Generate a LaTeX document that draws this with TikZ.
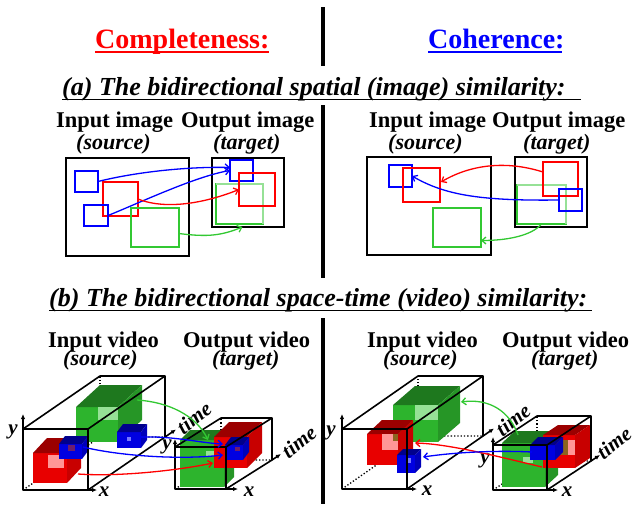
\documentclass[tikz,border=0pt]{standalone}
\usepackage{fontspec}
\setmainfont{Liberation Serif}
\usetikzlibrary{arrows.meta,calc}
\definecolor{cRed}{RGB}{255,0,0}
\definecolor{cBlue}{RGB}{0,0,255}
\definecolor{cGreen}{RGB}{50,200,50}
\definecolor{cPaleG}{RGB}{160,230,160}
\definecolor{gF}{RGB}{45,180,45}
\definecolor{gT}{RGB}{30,120,30}
\definecolor{gS}{RGB}{38,150,38}
\definecolor{rF}{RGB}{232,0,0}
\definecolor{rT}{RGB}{155,0,0}
\definecolor{rS}{RGB}{200,0,0}
\definecolor{bF}{RGB}{0,0,225}
\definecolor{bT}{RGB}{0,0,140}
\definecolor{bS}{RGB}{0,0,185}
\definecolor{paleR}{RGB}{255,150,150}
\definecolor{paleG}{RGB}{150,225,150}
\definecolor{paleB}{RGB}{120,120,255}
\definecolor{purp}{RGB}{110,30,110}
\definecolor{olive}{RGB}{140,100,30}
\newcommand\cuboid[7]{%
  \fill[#7F] (#1,#2) rectangle (#3,#4);
  \fill[#7T] (#1,#2) -- ++(#5,#6) -- ++({#3-#1},0) -- (#3,#2) -- cycle;
  \fill[#7S] (#3,#2) -- ++(#5,#6) -- ++(0,{#4-#2}) -- (#3,#4) -- cycle;
}
\newcommand\hidcube[6]{%
  \draw[hid] (#1,#4) -- ++(#5,#6) -- ++({#3-#1},0);
  \draw[hid] ({#1+#5},{#4+#6}) -- ({#1+#5},{#2+#6});
}
\newcommand\viscube[6]{%
  \draw[wire] (#1,#2) rectangle (#3,#4);
  \draw[wire] (#1,#2) -- ++(#5,#6) -- ++({#3-#1},0) -- (#3,#2);
  \draw[wire] ({#3+#5},{#2+#6}) -- ({#3+#5},{#4+#6}) -- (#3,#4);
}
\begin{document}
\begin{tikzpicture}[x=1pt,y=-1pt,
  blk/.style={draw=black,line width=1.8pt,inner sep=0pt,outer sep=0pt},
  rbox/.style={draw=#1,line width=1.6pt,inner sep=0pt,outer sep=0pt},
  conn/.style={line width=1.3pt,-{Straight Barb[length=4pt,width=7pt]}},
  wire/.style={line width=1.6pt,line join=round},
  hid/.style={line width=1.3pt,dotted},
  ax/.style={line width=1.6pt,-{Latex[length=5pt,width=4.5pt]}},
  head/.style={font=\fontsize{28}{30}\selectfont\bfseries,inner sep=0pt,anchor=base west},
  sub/.style={font=\fontsize{26}{28}\selectfont\bfseries\itshape,inner sep=0pt,anchor=base west},
  lab/.style={font=\fontsize{22.5}{24}\selectfont\bfseries,inner sep=0pt,anchor=base west},
  slab/.style={font=\fontsize{22}{24}\selectfont\bfseries\itshape,inner sep=0pt,anchor=base west},
  axl/.style={font=\fontsize{21}{21}\selectfont\bfseries\itshape,inner sep=0pt}]
\useasboundingbox (0,0) rectangle (635,504);
% dividers
\draw[line width=4pt] (323,7) -- (323,66);
\draw[line width=4pt] (323,105) -- (323,278);
\draw[line width=4pt] (323,318) -- (323,504);
% headings
\node[head,text=cRed] (hc) at (95,48) {Completeness:};
\draw[cRed,line width=2pt] (95,52) -- (269,52);
\node[head,text=cBlue] (hh) at (428,48) {Coherence:};
\draw[cBlue,line width=2pt] (428,52) -- (562,52);
\node[sub] (ha) at (62,95) {(a) The bidirectional spatial (image) similarity:};
\draw[line width=1.5pt] (62,99.5) -- (581,99.5);
\node[sub] (hb) at (49,306) {(b) The bidirectional space-time (video) similarity:};
\draw[line width=1.5pt] (49,310.5) -- (592,310.5);
% ---------- (a) labels
\node[lab] at (56,127) {Input image};
\node[lab] at (181,127) {Output image};
\node[slab] at (76,149) {(source)};
\node[slab] at (213,149) {(target)};
\node[lab] at (369,127) {Input image};
\node[lab] at (492,127) {Output image};
\node[slab] at (388,149) {(source)};
\node[slab] at (523,149) {(target)};
% ---------- (a) left
\node[blk,minimum width=123pt,minimum height=98pt] (srcL) at (127.5,207) {};
\node[blk,minimum width=72pt,minimum height=69pt] (tgtL) at (248,192.5) {};
\node[rbox=cBlue,minimum width=23pt,minimum height=21pt] (b1) at (86.5,181.5) {};
\node[rbox=cRed,minimum width=35pt,minimum height=34pt] (r1) at (120.5,199) {};
\node[rbox=cBlue,minimum width=24pt,minimum height=21pt] (b2) at (96,215.5) {};
\node[rbox=cGreen,minimum width=48pt,minimum height=39pt] (g1) at (155,227.5) {};
\node[rbox=cGreen,minimum width=47pt,minimum height=40pt] (og) at (239.5,204) {};
\draw[paleG,line width=1.6pt] (og.north west) -- (og.north east) -- (og.south east);
\node[rbox=cBlue,minimum width=23pt,minimum height=21pt] (ob) at (241.5,170.5) {};
\node[rbox=cRed,minimum width=36pt,minimum height=33pt] (or) at (257,189.5) {};
\draw[conn,cBlue] (b1.east) .. controls +(40,-10) and +(-40,-1) .. ($(ob.west)+(0,-3)$);
\draw[conn,cBlue] (b2.east) .. controls +(30,-12) and +(-35,6) .. (ob.west);
\draw[conn,cRed] (r1.east) .. controls +(30,12) and +(-30,12) .. (or.west);
\draw[conn,cGreen] ($(g1.east)+(0,6)$) .. controls +(30,4) and +(-20,8) .. ($(og.south)+(3,3)$);
% ---------- (a) right
\node[blk,minimum width=124pt,minimum height=98pt] (srcR) at (429,206) {};
\node[blk,minimum width=72pt,minimum height=70pt] (tgtR) at (551,192) {};
\node[rbox=cBlue,minimum width=23pt,minimum height=22pt] (bR) at (400.5,176) {};
\node[rbox=cRed,minimum width=37pt,minimum height=34pt] (rR) at (421.5,185) {};
\node[rbox=cGreen,minimum width=48pt,minimum height=39pt] (gR) at (457,227.5) {};
\node[rbox=cGreen,minimum width=49pt,minimum height=39pt] (ogR) at (541.5,204.5) {};
\draw[paleG,line width=1.6pt] (ogR.north west) -- (ogR.north east) -- (ogR.south east);
\node[rbox=cRed,minimum width=35pt,minimum height=34pt] (orR) at (560.5,179) {};
\node[rbox=cBlue,minimum width=23pt,minimum height=22pt] (obR) at (570.5,200) {};
\draw[conn,cRed] ($(orR.west)+(0,-7)$) .. controls +(-38,-12) and +(29,-17) .. ($(rR.east)+(1,-3)$);
\draw[conn,cBlue] (obR.west) .. controls +(-79,1) and +(33,19) .. (bR.east);
\draw[conn,cGreen] (ogR.south) .. controls +(-10,12) and +(25,0) .. ($(gR.east)+(0,13)$);
% ---------- (b) labels
\node[lab] at (48,347) {Input video};
\node[slab] at (63,365) {(source)};
\node[lab] at (183,347) {Output video};
\node[slab] at (212,365) {(target)};
\node[lab] at (367,347) {Input video};
\node[slab] at (383,365) {(source)};
\node[lab] at (502,347) {Output video};
\node[slab] at (531,365) {(target)};
% ---------- (b) left input cube
\hidcube{23}{429}{88}{490}{77}{-53}
\cuboid{76}{407}{118}{442}{24}{-22}{g}
\fill[paleG] (98,407) rectangle (118,420);
\cuboid{117}{432}{141}{448}{6}{-8}{b}
\fill[paleB] (127,437) rectangle (131,441);
\cuboid{33}{453}{67}{483}{14}{-15}{r}
\fill[paleR] (48,455) rectangle (64,468);
\cuboid{59}{444}{82}{459}{6}{-8}{b}
\fill[purp] (68,445) rectangle (75,451);
\viscube{23}{429}{88}{490}{77}{-53}
\draw[ax] (23,429) -- (23,414);
\draw[ax] (88,490) -- (97,490);
\draw[ax] (165,437) -- (176,429.5);
\node[axl] at (13,432) {y};
\node[axl] at (104,492) {x};
\node[axl,rotate=38] at (194,418) {time};
% ---------- (b) left output cube
\hidcube{175}{447}{226}{489}{46}{-29}
\cuboid{180}{440}{224}{487}{10}{-10}{g}
\fill[paleG] (206,451) rectangle (215,456);
\cuboid{214}{437}{247}{468}{15}{-15}{r}
\cuboid{225}{445}{243}{460}{6}{-8}{b}
\fill[purp] (235,447) rectangle (240,451);
\viscube{175}{447}{226}{489}{46}{-29}
\draw[ax] (175,447) -- (175,439);
\draw[ax] (226,489) -- (238,489);
\draw[ax] (272,460) -- (281,454);
\node[axl] at (167,447) {y};
\node[axl] at (249,492) {x};
\node[axl,rotate=38] at (299,442) {time};
% (b) left connectors
\coordinate (sG) at (137,400); \coordinate (tG) at (208,440);
\coordinate (sB1) at (141,437); \coordinate (tB1) at (223,444);
\coordinate (sB2) at (83,447); \coordinate (tB2) at (223,455);
\coordinate (sR) at (78,474); \coordinate (tR) at (213,463);
\draw[conn,cGreen] (sG) .. controls (168,402) and (196,415) .. (tG);
\draw[conn,cBlue] (sB1) .. controls (175,436) and (200,443) .. (tB1);
\draw[conn,cBlue] (sB2) .. controls (120,456) and (180,460) .. (tB2);
\draw[conn,cRed] (sR) .. controls (120,477) and (180,470) .. (tR);
% ---------- (b) right input cube
\hidcube{342}{429}{407}{489}{76}{-53}
\cuboid{393}{405}{438}{442}{22}{-19}{g}
\fill[paleG] (415,405) rectangle (438,420);
\cuboid{367}{434}{398}{465}{15}{-14}{r}
\fill[paleR] (382,434) rectangle (398,450);
\fill[olive] (393,434) rectangle (398,441);
\cuboid{397}{455}{415}{473}{6}{-6}{b}
\fill[paleB] (406,458) rectangle (411,463);
\viscube{342}{429}{407}{489}{76}{-53}
\draw[ax] (342,429) -- (342,414);
\draw[ax] (407,489) -- (417,489);
\draw[ax] (483,436) -- (494,428.5);
\node[axl] at (331,433) {y};
\node[axl] at (427,491) {x};
\node[axl,rotate=38] at (513,420) {time};
% ---------- (b) right output cube
\hidcube{493}{445}{547}{490}{44}{-29}
\cuboid{502}{443}{545}{487}{13}{-12}{g}
\fill[paleG] (523,457) rectangle (533,463);
\cuboid{543}{435}{575}{468}{15}{-10}{r}
\fill[olive] (557,440) rectangle (568,455);
\fill[paleR] (568,440) rectangle (575,455);
\cuboid{530}{445}{555}{460}{8}{-8}{b}
\viscube{493}{445}{547}{490}{44}{-29}
\draw[ax] (493,445) -- (493,437);
\draw[ax] (547,490) -- (558,490);
\draw[ax] (591,461) -- (600,455);
\node[axl] at (485,461) {y};
\node[axl] at (567,492) {x};
\node[axl,rotate=38] at (614,443) {time};
% (b) right connectors
\coordinate (uG) at (518,435); \coordinate (vG) at (461,402);
\coordinate (uR) at (542,467); \coordinate (vR) at (415,443);
\coordinate (uB) at (532,452); \coordinate (vB) at (423,457);
\draw[conn,cGreen] (uG) .. controls (510,412) and (490,398) .. (vG);
\draw[conn,cRed] (uR) .. controls (500,457) and (450,444) .. (vR);
\draw[conn,cBlue] (uB) .. controls (490,450) and (450,453) .. (vB);
\end{tikzpicture}
\end{document}
